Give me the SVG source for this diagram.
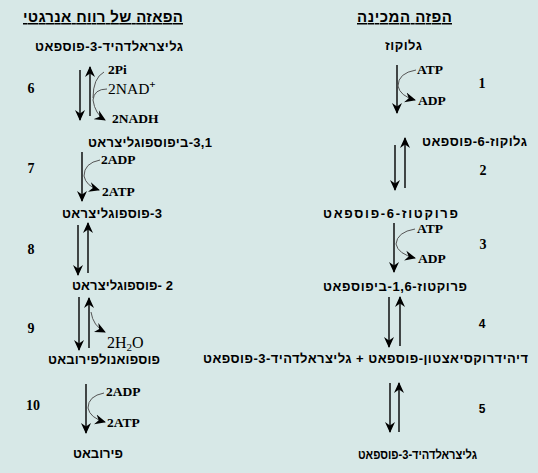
<svg xmlns="http://www.w3.org/2000/svg" width="538" height="473" viewBox="0 0 538 473">
<style>
.heb{font-family:"Liberation Sans","DejaVu Sans",sans-serif;font-weight:bold;font-size:13px;direction:rtl;unicode-bidi:embed;text-anchor:middle;fill:#000}
.title{font-size:15px;text-decoration:underline}
.num{font-family:"Liberation Serif",serif;font-weight:bold;font-size:14px;text-anchor:middle;fill:#000}
.nums{font-family:"Liberation Sans",sans-serif;font-weight:bold;font-size:12px;text-anchor:middle;fill:#000}
.chem{font-family:"Liberation Serif",serif;font-weight:bold;font-size:13.5px;fill:#000}
.chemr{font-family:"Liberation Serif",serif;font-size:16px;fill:#000}
.arr{stroke:#000;stroke-width:1.4;fill:none;marker-end:url(#ah)}
.cur{stroke:#555;stroke-width:1;fill:none}
.cura{stroke:#555;stroke-width:1;fill:none;marker-end:url(#ah)}
</style>
<defs>
<marker id="ah" markerUnits="userSpaceOnUse" markerWidth="11" markerHeight="11" refX="10" refY="5.5" orient="auto">
<path d="M0,0.5 L11,5.5 L0,10.5 L3.5,5.5 z" fill="#000"/>
</marker>
</defs>
<rect width="538" height="473" fill="#d7e8e7"/>

<g id="title-left"><text class="heb title" x="103" y="22" textLength="160" lengthAdjust="spacing">הפאזה של רווח אנרגטי</text></g>
<g id="title-right"><text class="heb title" x="404.5" y="22" textLength="95" lengthAdjust="spacing">הפזה המכינה</text></g>

<g id="n-g3p-left"><text class="heb" x="109" y="51" textLength="148" lengthAdjust="spacing">גליצראלדהיד-3-פוספאט</text></g>
<g id="n-bpg"><text class="heb" x="150" y="147" textLength="124" lengthAdjust="spacing">3,1-ביפוספוגליצראט</text></g>
<g id="n-3pg"><text class="heb" x="112" y="218" textLength="100" lengthAdjust="spacing">3-פוספוגליצראט</text></g>
<g id="n-2pg"><text class="heb" x="122.5" y="290" textLength="101" lengthAdjust="spacing">2 -פוספוגליצראט</text></g>
<g id="n-pep"><text class="heb" x="104" y="364" textLength="112" lengthAdjust="spacing">פוספואנולפירובאט</text></g>
<g id="n-pyr"><text class="heb" x="98" y="458" textLength="50" lengthAdjust="spacing">פירובאט</text></g>

<g id="n-glucose"><text class="heb" x="403.5" y="50" textLength="37" lengthAdjust="spacing">גלוקוז</text></g>
<g id="n-g6p"><text class="heb" x="474.5" y="146" textLength="105" lengthAdjust="spacing">גלוקוז-6-פוספאט</text></g>
<g id="n-f6p"><text class="heb" x="390.5" y="218" textLength="135" lengthAdjust="spacing">פרוקטוז-6-פוספאט</text></g>
<g id="n-f16bp"><text class="heb" x="395" y="291" textLength="144" lengthAdjust="spacing">פרוקטוז-1,6-ביפוספאט</text></g>
<g id="n-dhap"><text class="heb" x="365.5" y="363" textLength="325" lengthAdjust="spacing">דיהידרוקסיאצטון-פוספאט + גליצראלדהיד-3-פוספאט</text></g>
<g id="n-g3p-right"><text class="heb" x="417.5" y="459" style="font-size:12.5px" textLength="119" lengthAdjust="spacingAndGlyphs">גליצראלדהיד-3-פוספאט</text></g>

<g id="step-labels">
<text class="num" x="31" y="93">6</text>
<text class="num" x="31" y="173">7</text>
<text class="num" x="31" y="254">8</text>
<text class="num" x="31" y="333">9</text>
<text class="num" x="33" y="410">10</text>
<text class="num" x="482" y="88">1</text>
<text class="num" x="483" y="175">2</text>
<text class="num" x="483" y="249">3</text>
<text class="nums" x="482" y="328">4</text>
<text class="nums" x="482" y="413">5</text>
</g>

<g id="cofactors">
<text class="chem" x="108" y="74">2Pi</text>
<text class="chemr" x="108" y="94" style="font-size:15.5px">2NAD<tspan dy="-6" style="font-size:11px;font-weight:bold">+</tspan></text>
<text class="chem" x="112" y="123">2NADH</text>
<text class="chem" x="101" y="164">2ADP</text>
<text class="chem" x="102" y="196">2ATP</text>
<text class="chemr" x="107" y="348">2H<tspan dy="3" style="font-size:11px">2</tspan><tspan dy="-3">O</tspan></text>
<text class="chem" x="106" y="396">2ADP</text>
<text class="chem" x="107" y="427">2ATP</text>
<text class="chem" x="417" y="74">ATP</text>
<text class="chem" x="418" y="105">ADP</text>
<text class="chem" x="417" y="233">ATP</text>
<text class="chem" x="418" y="263">ADP</text>
</g>

<g id="connectors">
<path class="arr" d="M80,70 V120"/>
<path class="arr" d="M90,116 V67"/>
<path class="cur" d="M104,72 Q93,78 93,98"/>
<path class="cura" d="M107,89 Q94,89 93,100 Q95,114 105,120"/>
<path class="arr" d="M82,152 V201"/>
<path class="cura" d="M100,160 Q84,163 84,176 Q86,186 99,190"/>
<path class="arr" d="M78,225 V275"/>
<path class="arr" d="M88,273 V223"/>
<path class="arr" d="M79,297 V350"/>
<path class="arr" d="M89,348 V298"/>
<path class="cura" d="M91,312 Q93,326 105,332"/>
<path class="arr" d="M86,384 V433"/>
<path class="cura" d="M104,393 Q88,396 88,408 Q90,418 105,422"/>
<path class="arr" d="M397,65 V113"/>
<path class="cura" d="M416,70 Q398,73 398,86 Q400,96 415,100"/>
<path class="arr" d="M395,145 V190"/>
<path class="arr" d="M405,188 V138"/>
<path class="arr" d="M394,223 V272"/>
<path class="cura" d="M415,229 Q397,232 396,244 Q398,254 415,258"/>
<path class="arr" d="M389,297 V347"/>
<path class="arr" d="M400,346 V297"/>
<path class="arr" d="M390,383 V432"/>
<path class="arr" d="M399,432 V383"/>
</g>
</svg>
